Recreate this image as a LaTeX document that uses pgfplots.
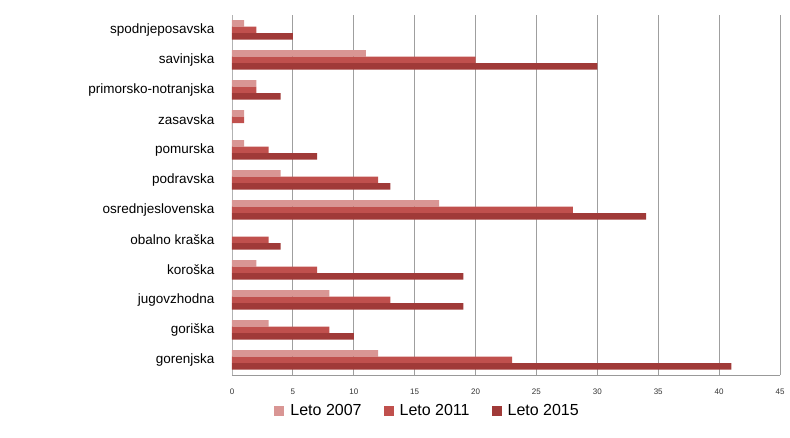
\documentclass[border=0pt]{standalone}
\usepackage{pgfplots}
\pgfplotsset{compat=1.18}
\usepackage{fontspec}
\setmainfont{Liberation Sans}

\definecolor{c07}{RGB}{217,150,148}
\definecolor{c11}{RGB}{192,80,77}
\definecolor{c15}{RGB}{160,58,56}

\begin{document}
\begin{tikzpicture}[x=1pt,y=1pt]
\useasboundingbox (-232,-63) rectangle (558,375);
\begin{axis}[
    at={(0,0)}, anchor=south west,
    scale only axis,
    width=548pt, height=360pt,
    xbar=0pt, bar width=6.5pt,
    xmin=0, xmax=45,
    xtick={0,5,...,45},
    ymin=-0.5, ymax=11.5,
    ytick={0,...,11},
    yticklabels={gorenjska,goriška,jugovzhodna,koroška,obalno kraška,osrednjeslovenska,podravska,pomurska,zasavska,primorsko-notranjska,savinjska,spodnjeposavska},
    axis x line*=bottom, axis y line*=left,
    axis line style={draw=gray!80},
    xmajorgrids, major grid style={draw=gray!75, line width=0.8pt},
    major tick length=0pt,
    y axis line style={draw=gray!60},
    tick label style={/pgf/number format/assume math mode=true},
    xticklabel style={font=\fontsize{8}{9}\selectfont, text=black!80, yshift=-10pt},
    yticklabel style={font=\fontsize{13.5}{15}\selectfont, xshift=-14pt},
    legend style={at={(0.357,-0.1)}, anchor=center, draw=none,
        legend columns=3, font=\fontsize{16}{18}\selectfont,
        /tikz/every odd column/.append style={column sep=4pt},
        /tikz/every even column/.append style={column sep=20pt}},
    legend image code/.code={\fill[#1] (0pt,-5pt) rectangle (10pt,5pt);},
]
\addplot[bar shift=6.5pt, fill=c07, draw=none] coordinates {(12,0) (3,1) (8,2) (2,3) (0,4) (17,5) (4,6) (1,7) (1,8) (2,9) (11,10) (1,11)};
\addplot[bar shift=0pt, fill=c11, draw=none] coordinates {(23,0) (8,1) (13,2) (7,3) (3,4) (28,5) (12,6) (3,7) (1,8) (2,9) (20,10) (2,11)};
\addplot[bar shift=-6.5pt, fill=c15, draw=none] coordinates {(41,0) (10,1) (19,2) (19,3) (4,4) (34,5) (13,6) (7,7) (0,8) (4,9) (30,10) (5,11)};
\legend{Leto 2007, Leto 2011, Leto 2015}
\end{axis}
\end{tikzpicture}
\end{document}
